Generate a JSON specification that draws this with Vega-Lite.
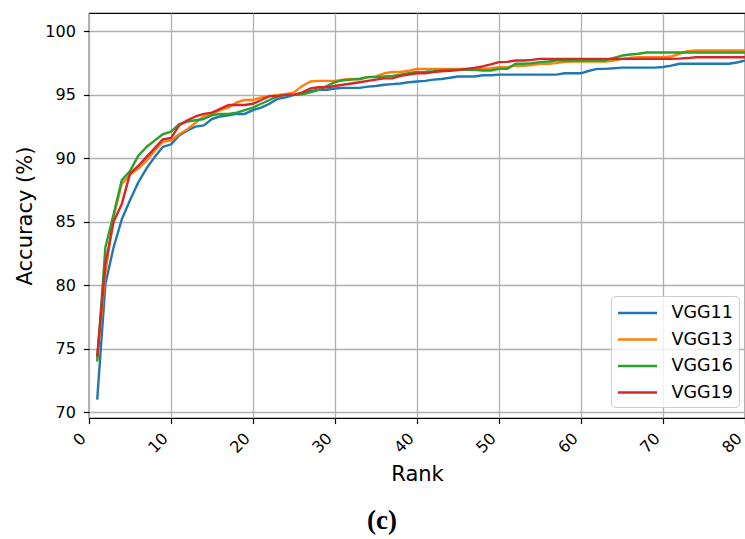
{
  "$schema": "https://vega.github.io/schema/vega-lite/v6.json",
  "width": 656,
  "height": 405,
  "autosize": {"type": "none"},
  "padding": {"left": 89, "top": 13, "right": 0, "bottom": 121},
  "background": "white",
  "title": {"text": "(c)", "orient": "bottom", "anchor": "middle", "frame": "group", "dx": -35, "offset": 23, "font": "Liberation Serif", "fontWeight": "bold", "fontSize": 27, "color": "black"},
  "config": {
    "font": "DejaVu Sans",
    "view": {"stroke": "black", "strokeWidth": 1.2},
    "axis": {
      "domain": false,
      "grid": true,
      "gridColor": "#b0b0b0",
      "gridWidth": 1.3,
      "ticks": true,
      "tickColor": "black",
      "tickWidth": 1.2,
      "tickSize": 5.6,
      "labelColor": "black",
      "labelFont": "DejaVu Sans",
      "labelFontSize": 16,
      "titleFont": "DejaVu Sans",
      "titleFontSize": 21,
      "titleFontWeight": "normal",
      "titleColor": "black"
    },
    "legend": {
      "orient": "none",
      "legendX": 522,
      "legendY": 283,
      "fillColor": "rgba(255,255,255,0.8)",
      "strokeColor": "#cccccc",
      "cornerRadius": 4,
      "padding": 5.5,
      "symbolType": "M-1,0H2.9",
      "symbolSize": 400,
      "symbolStrokeWidth": 2.4,
      "labelFont": "DejaVu Sans",
      "labelFontSize": 17.5,
      "labelColor": "black",
      "labelOffset": 32,
      "rowPadding": 6.5
    }
  },
  "data": {"values": [
    {"rank":1,"model":"VGG11","acc":71.0},{"rank":2,"model":"VGG11","acc":80.1},{"rank":3,"model":"VGG11","acc":83.0},{"rank":4,"model":"VGG11","acc":85.2},{"rank":5,"model":"VGG11","acc":86.7},{"rank":6,"model":"VGG11","acc":88.1},{"rank":7,"model":"VGG11","acc":89.2},{"rank":8,"model":"VGG11","acc":90.1},{"rank":9,"model":"VGG11","acc":90.9},{"rank":10,"model":"VGG11","acc":91.1},
    {"rank":11,"model":"VGG11","acc":91.8},{"rank":12,"model":"VGG11","acc":92.2},{"rank":13,"model":"VGG11","acc":92.5},{"rank":14,"model":"VGG11","acc":92.6},{"rank":15,"model":"VGG11","acc":93.1},{"rank":16,"model":"VGG11","acc":93.3},{"rank":17,"model":"VGG11","acc":93.4},{"rank":18,"model":"VGG11","acc":93.5},{"rank":19,"model":"VGG11","acc":93.5},{"rank":20,"model":"VGG11","acc":93.8},
    {"rank":21,"model":"VGG11","acc":94.0},{"rank":22,"model":"VGG11","acc":94.3},{"rank":23,"model":"VGG11","acc":94.7},{"rank":24,"model":"VGG11","acc":94.8},{"rank":25,"model":"VGG11","acc":95.0},{"rank":26,"model":"VGG11","acc":95.1},{"rank":27,"model":"VGG11","acc":95.3},{"rank":28,"model":"VGG11","acc":95.4},{"rank":29,"model":"VGG11","acc":95.4},{"rank":30,"model":"VGG11","acc":95.5},
    {"rank":31,"model":"VGG11","acc":95.55},{"rank":32,"model":"VGG11","acc":95.55},{"rank":33,"model":"VGG11","acc":95.55},{"rank":34,"model":"VGG11","acc":95.65},{"rank":35,"model":"VGG11","acc":95.7},{"rank":36,"model":"VGG11","acc":95.8},{"rank":37,"model":"VGG11","acc":95.85},{"rank":38,"model":"VGG11","acc":95.9},{"rank":39,"model":"VGG11","acc":96.0},{"rank":40,"model":"VGG11","acc":96.05},
    {"rank":41,"model":"VGG11","acc":96.1},{"rank":42,"model":"VGG11","acc":96.2},{"rank":43,"model":"VGG11","acc":96.25},{"rank":44,"model":"VGG11","acc":96.35},{"rank":45,"model":"VGG11","acc":96.45},{"rank":46,"model":"VGG11","acc":96.45},{"rank":47,"model":"VGG11","acc":96.45},{"rank":48,"model":"VGG11","acc":96.55},{"rank":49,"model":"VGG11","acc":96.55},{"rank":50,"model":"VGG11","acc":96.6},
    {"rank":51,"model":"VGG11","acc":96.6},{"rank":52,"model":"VGG11","acc":96.6},{"rank":53,"model":"VGG11","acc":96.6},{"rank":54,"model":"VGG11","acc":96.6},{"rank":55,"model":"VGG11","acc":96.6},{"rank":56,"model":"VGG11","acc":96.6},{"rank":57,"model":"VGG11","acc":96.6},{"rank":58,"model":"VGG11","acc":96.7},{"rank":59,"model":"VGG11","acc":96.7},{"rank":60,"model":"VGG11","acc":96.7},
    {"rank":61,"model":"VGG11","acc":96.9},{"rank":62,"model":"VGG11","acc":97.05},{"rank":63,"model":"VGG11","acc":97.05},{"rank":64,"model":"VGG11","acc":97.1},{"rank":65,"model":"VGG11","acc":97.15},{"rank":66,"model":"VGG11","acc":97.15},{"rank":67,"model":"VGG11","acc":97.15},{"rank":68,"model":"VGG11","acc":97.15},{"rank":69,"model":"VGG11","acc":97.15},{"rank":70,"model":"VGG11","acc":97.2},
    {"rank":71,"model":"VGG11","acc":97.3},{"rank":72,"model":"VGG11","acc":97.45},{"rank":73,"model":"VGG11","acc":97.45},{"rank":74,"model":"VGG11","acc":97.45},{"rank":75,"model":"VGG11","acc":97.45},{"rank":76,"model":"VGG11","acc":97.45},{"rank":77,"model":"VGG11","acc":97.45},{"rank":78,"model":"VGG11","acc":97.45},{"rank":79,"model":"VGG11","acc":97.55},{"rank":80,"model":"VGG11","acc":97.7},

    {"rank":1,"model":"VGG13","acc":74.2},{"rank":2,"model":"VGG13","acc":81.0},{"rank":3,"model":"VGG13","acc":85.4},{"rank":4,"model":"VGG13","acc":88.0},{"rank":5,"model":"VGG13","acc":88.7},{"rank":6,"model":"VGG13","acc":89.2},{"rank":7,"model":"VGG13","acc":89.8},{"rank":8,"model":"VGG13","acc":90.6},{"rank":9,"model":"VGG13","acc":91.3},{"rank":10,"model":"VGG13","acc":91.4},
    {"rank":11,"model":"VGG13","acc":91.9},{"rank":12,"model":"VGG13","acc":92.3},{"rank":13,"model":"VGG13","acc":92.8},{"rank":14,"model":"VGG13","acc":93.3},{"rank":15,"model":"VGG13","acc":93.5},{"rank":16,"model":"VGG13","acc":93.8},{"rank":17,"model":"VGG13","acc":94.0},{"rank":18,"model":"VGG13","acc":94.4},{"rank":19,"model":"VGG13","acc":94.6},{"rank":20,"model":"VGG13","acc":94.6},
    {"rank":21,"model":"VGG13","acc":94.8},{"rank":22,"model":"VGG13","acc":94.9},{"rank":23,"model":"VGG13","acc":95.0},{"rank":24,"model":"VGG13","acc":95.05},{"rank":25,"model":"VGG13","acc":95.2},{"rank":26,"model":"VGG13","acc":95.7},{"rank":27,"model":"VGG13","acc":96.05},{"rank":28,"model":"VGG13","acc":96.1},{"rank":29,"model":"VGG13","acc":96.1},{"rank":30,"model":"VGG13","acc":96.1},
    {"rank":31,"model":"VGG13","acc":96.2},{"rank":32,"model":"VGG13","acc":96.25},{"rank":33,"model":"VGG13","acc":96.25},{"rank":34,"model":"VGG13","acc":96.4},{"rank":35,"model":"VGG13","acc":96.45},{"rank":36,"model":"VGG13","acc":96.7},{"rank":37,"model":"VGG13","acc":96.8},{"rank":38,"model":"VGG13","acc":96.8},{"rank":39,"model":"VGG13","acc":96.9},{"rank":40,"model":"VGG13","acc":97.05},
    {"rank":41,"model":"VGG13","acc":97.05},{"rank":42,"model":"VGG13","acc":97.05},{"rank":43,"model":"VGG13","acc":97.05},{"rank":44,"model":"VGG13","acc":97.05},{"rank":45,"model":"VGG13","acc":97.05},{"rank":46,"model":"VGG13","acc":97.05},{"rank":47,"model":"VGG13","acc":97.05},{"rank":48,"model":"VGG13","acc":97.05},{"rank":49,"model":"VGG13","acc":97.1},{"rank":50,"model":"VGG13","acc":97.18},
    {"rank":51,"model":"VGG13","acc":97.18},{"rank":52,"model":"VGG13","acc":97.3},{"rank":53,"model":"VGG13","acc":97.3},{"rank":54,"model":"VGG13","acc":97.35},{"rank":55,"model":"VGG13","acc":97.45},{"rank":56,"model":"VGG13","acc":97.45},{"rank":57,"model":"VGG13","acc":97.5},{"rank":58,"model":"VGG13","acc":97.6},{"rank":59,"model":"VGG13","acc":97.63},{"rank":60,"model":"VGG13","acc":97.63},
    {"rank":61,"model":"VGG13","acc":97.63},{"rank":62,"model":"VGG13","acc":97.63},{"rank":63,"model":"VGG13","acc":97.63},{"rank":64,"model":"VGG13","acc":97.7},{"rank":65,"model":"VGG13","acc":97.84},{"rank":66,"model":"VGG13","acc":97.92},{"rank":67,"model":"VGG13","acc":97.97},{"rank":68,"model":"VGG13","acc":97.97},{"rank":69,"model":"VGG13","acc":97.97},{"rank":70,"model":"VGG13","acc":97.97},
    {"rank":71,"model":"VGG13","acc":98.02},{"rank":72,"model":"VGG13","acc":98.24},{"rank":73,"model":"VGG13","acc":98.45},{"rank":74,"model":"VGG13","acc":98.5},{"rank":75,"model":"VGG13","acc":98.5},{"rank":76,"model":"VGG13","acc":98.5},{"rank":77,"model":"VGG13","acc":98.5},{"rank":78,"model":"VGG13","acc":98.5},{"rank":79,"model":"VGG13","acc":98.5},{"rank":80,"model":"VGG13","acc":98.5},

    {"rank":1,"model":"VGG16","acc":74.0},{"rank":2,"model":"VGG16","acc":83.0},{"rank":3,"model":"VGG16","acc":85.6},{"rank":4,"model":"VGG16","acc":88.3},{"rank":5,"model":"VGG16","acc":89.0},{"rank":6,"model":"VGG16","acc":90.2},{"rank":7,"model":"VGG16","acc":90.9},{"rank":8,"model":"VGG16","acc":91.4},{"rank":9,"model":"VGG16","acc":91.9},{"rank":10,"model":"VGG16","acc":92.1},
    {"rank":11,"model":"VGG16","acc":92.7},{"rank":12,"model":"VGG16","acc":92.9},{"rank":13,"model":"VGG16","acc":93.0},{"rank":14,"model":"VGG16","acc":93.1},{"rank":15,"model":"VGG16","acc":93.4},{"rank":16,"model":"VGG16","acc":93.5},{"rank":17,"model":"VGG16","acc":93.5},{"rank":18,"model":"VGG16","acc":93.6},{"rank":19,"model":"VGG16","acc":93.8},{"rank":20,"model":"VGG16","acc":94.0},
    {"rank":21,"model":"VGG16","acc":94.3},{"rank":22,"model":"VGG16","acc":94.6},{"rank":23,"model":"VGG16","acc":94.9},{"rank":24,"model":"VGG16","acc":95.0},{"rank":25,"model":"VGG16","acc":95.0},{"rank":26,"model":"VGG16","acc":95.05},{"rank":27,"model":"VGG16","acc":95.2},{"rank":28,"model":"VGG16","acc":95.4},{"rank":29,"model":"VGG16","acc":95.7},{"rank":30,"model":"VGG16","acc":96.0},
    {"rank":31,"model":"VGG16","acc":96.15},{"rank":32,"model":"VGG16","acc":96.2},{"rank":33,"model":"VGG16","acc":96.25},{"rank":34,"model":"VGG16","acc":96.4},{"rank":35,"model":"VGG16","acc":96.4},{"rank":36,"model":"VGG16","acc":96.45},{"rank":37,"model":"VGG16","acc":96.5},{"rank":38,"model":"VGG16","acc":96.6},{"rank":39,"model":"VGG16","acc":96.7},{"rank":40,"model":"VGG16","acc":96.8},
    {"rank":41,"model":"VGG16","acc":96.82},{"rank":42,"model":"VGG16","acc":96.87},{"rank":43,"model":"VGG16","acc":96.95},{"rank":44,"model":"VGG16","acc":96.97},{"rank":45,"model":"VGG16","acc":96.97},{"rank":46,"model":"VGG16","acc":96.97},{"rank":47,"model":"VGG16","acc":96.97},{"rank":48,"model":"VGG16","acc":96.92},{"rank":49,"model":"VGG16","acc":96.92},{"rank":50,"model":"VGG16","acc":97.05},
    {"rank":51,"model":"VGG16","acc":97.05},{"rank":52,"model":"VGG16","acc":97.45},{"rank":53,"model":"VGG16","acc":97.45},{"rank":54,"model":"VGG16","acc":97.5},{"rank":55,"model":"VGG16","acc":97.58},{"rank":56,"model":"VGG16","acc":97.63},{"rank":57,"model":"VGG16","acc":97.71},{"rank":58,"model":"VGG16","acc":97.71},{"rank":59,"model":"VGG16","acc":97.71},{"rank":60,"model":"VGG16","acc":97.71},
    {"rank":61,"model":"VGG16","acc":97.71},{"rank":62,"model":"VGG16","acc":97.71},{"rank":63,"model":"VGG16","acc":97.71},{"rank":64,"model":"VGG16","acc":97.92},{"rank":65,"model":"VGG16","acc":98.1},{"rank":66,"model":"VGG16","acc":98.18},{"rank":67,"model":"VGG16","acc":98.24},{"rank":68,"model":"VGG16","acc":98.34},{"rank":69,"model":"VGG16","acc":98.34},{"rank":70,"model":"VGG16","acc":98.34},
    {"rank":71,"model":"VGG16","acc":98.34},{"rank":72,"model":"VGG16","acc":98.34},{"rank":73,"model":"VGG16","acc":98.34},{"rank":74,"model":"VGG16","acc":98.34},{"rank":75,"model":"VGG16","acc":98.34},{"rank":76,"model":"VGG16","acc":98.34},{"rank":77,"model":"VGG16","acc":98.34},{"rank":78,"model":"VGG16","acc":98.34},{"rank":79,"model":"VGG16","acc":98.34},{"rank":80,"model":"VGG16","acc":98.34},

    {"rank":1,"model":"VGG19","acc":74.4},{"rank":2,"model":"VGG19","acc":81.7},{"rank":3,"model":"VGG19","acc":85.0},{"rank":4,"model":"VGG19","acc":86.4},{"rank":5,"model":"VGG19","acc":88.8},{"rank":6,"model":"VGG19","acc":89.4},{"rank":7,"model":"VGG19","acc":90.1},{"rank":8,"model":"VGG19","acc":90.8},{"rank":9,"model":"VGG19","acc":91.5},{"rank":10,"model":"VGG19","acc":91.6},
    {"rank":11,"model":"VGG19","acc":92.6},{"rank":12,"model":"VGG19","acc":93.0},{"rank":13,"model":"VGG19","acc":93.3},{"rank":14,"model":"VGG19","acc":93.5},{"rank":15,"model":"VGG19","acc":93.6},{"rank":16,"model":"VGG19","acc":93.9},{"rank":17,"model":"VGG19","acc":94.2},{"rank":18,"model":"VGG19","acc":94.2},{"rank":19,"model":"VGG19","acc":94.2},{"rank":20,"model":"VGG19","acc":94.3},
    {"rank":21,"model":"VGG19","acc":94.6},{"rank":22,"model":"VGG19","acc":94.9},{"rank":23,"model":"VGG19","acc":94.9},{"rank":24,"model":"VGG19","acc":95.0},{"rank":25,"model":"VGG19","acc":95.0},{"rank":26,"model":"VGG19","acc":95.2},{"rank":27,"model":"VGG19","acc":95.5},{"rank":28,"model":"VGG19","acc":95.6},{"rank":29,"model":"VGG19","acc":95.6},{"rank":30,"model":"VGG19","acc":95.7},
    {"rank":31,"model":"VGG19","acc":95.8},{"rank":32,"model":"VGG19","acc":95.9},{"rank":33,"model":"VGG19","acc":96.0},{"rank":34,"model":"VGG19","acc":96.1},{"rank":35,"model":"VGG19","acc":96.2},{"rank":36,"model":"VGG19","acc":96.3},{"rank":37,"model":"VGG19","acc":96.3},{"rank":38,"model":"VGG19","acc":96.5},{"rank":39,"model":"VGG19","acc":96.6},{"rank":40,"model":"VGG19","acc":96.7},
    {"rank":41,"model":"VGG19","acc":96.7},{"rank":42,"model":"VGG19","acc":96.8},{"rank":43,"model":"VGG19","acc":96.85},{"rank":44,"model":"VGG19","acc":96.9},{"rank":45,"model":"VGG19","acc":96.95},{"rank":46,"model":"VGG19","acc":97.05},{"rank":47,"model":"VGG19","acc":97.13},{"rank":48,"model":"VGG19","acc":97.24},{"rank":49,"model":"VGG19","acc":97.4},{"rank":50,"model":"VGG19","acc":97.58},
    {"rank":51,"model":"VGG19","acc":97.6},{"rank":52,"model":"VGG19","acc":97.71},{"rank":53,"model":"VGG19","acc":97.71},{"rank":54,"model":"VGG19","acc":97.76},{"rank":55,"model":"VGG19","acc":97.84},{"rank":56,"model":"VGG19","acc":97.84},{"rank":57,"model":"VGG19","acc":97.84},{"rank":58,"model":"VGG19","acc":97.84},{"rank":59,"model":"VGG19","acc":97.84},{"rank":60,"model":"VGG19","acc":97.84},
    {"rank":61,"model":"VGG19","acc":97.84},{"rank":62,"model":"VGG19","acc":97.84},{"rank":63,"model":"VGG19","acc":97.84},{"rank":64,"model":"VGG19","acc":97.84},{"rank":65,"model":"VGG19","acc":97.84},{"rank":66,"model":"VGG19","acc":97.84},{"rank":67,"model":"VGG19","acc":97.84},{"rank":68,"model":"VGG19","acc":97.84},{"rank":69,"model":"VGG19","acc":97.84},{"rank":70,"model":"VGG19","acc":97.84},
    {"rank":71,"model":"VGG19","acc":97.84},{"rank":72,"model":"VGG19","acc":97.86},{"rank":73,"model":"VGG19","acc":97.9},{"rank":74,"model":"VGG19","acc":97.97},{"rank":75,"model":"VGG19","acc":97.97},{"rank":76,"model":"VGG19","acc":97.97},{"rank":77,"model":"VGG19","acc":97.97},{"rank":78,"model":"VGG19","acc":97.97},{"rank":79,"model":"VGG19","acc":97.97},{"rank":80,"model":"VGG19","acc":97.97}
  ]},
  "mark": {"type": "line", "strokeWidth": 2.4, "clip": true, "strokeJoin": "round"},
  "encoding": {
    "x": {
      "field": "rank", "type": "quantitative",
      "scale": {"domain": [0, 80], "nice": false, "zero": false},
      "axis": {"values": [0, 10, 20, 30, 40, 50, 60, 70, 80], "title": "Rank", "labelAngle": -45, "labelAlign": "right", "labelBaseline": "middle", "labelOffset": -6, "labelPadding": 12, "titlePadding": 8, "labelOverlap": false, "labelFlush": false, "labelBound": false}
    },
    "y": {
      "field": "acc", "type": "quantitative",
      "scale": {"domain": [69.55, 101.45], "nice": false, "zero": false},
      "axis": {"values": [70, 75, 80, 85, 90, 95, 100], "title": "Accuracy (%)", "labelPadding": 8, "titlePadding": 9, "labelOverlap": false, "labelFlush": false}
    },
    "color": {
      "field": "model", "type": "nominal",
      "scale": {"domain": ["VGG11", "VGG13", "VGG16", "VGG19"], "range": ["#1f77b4", "#ff7f0e", "#2ca02c", "#d62728"]},
      "legend": {"title": null}
    }
  }
}
